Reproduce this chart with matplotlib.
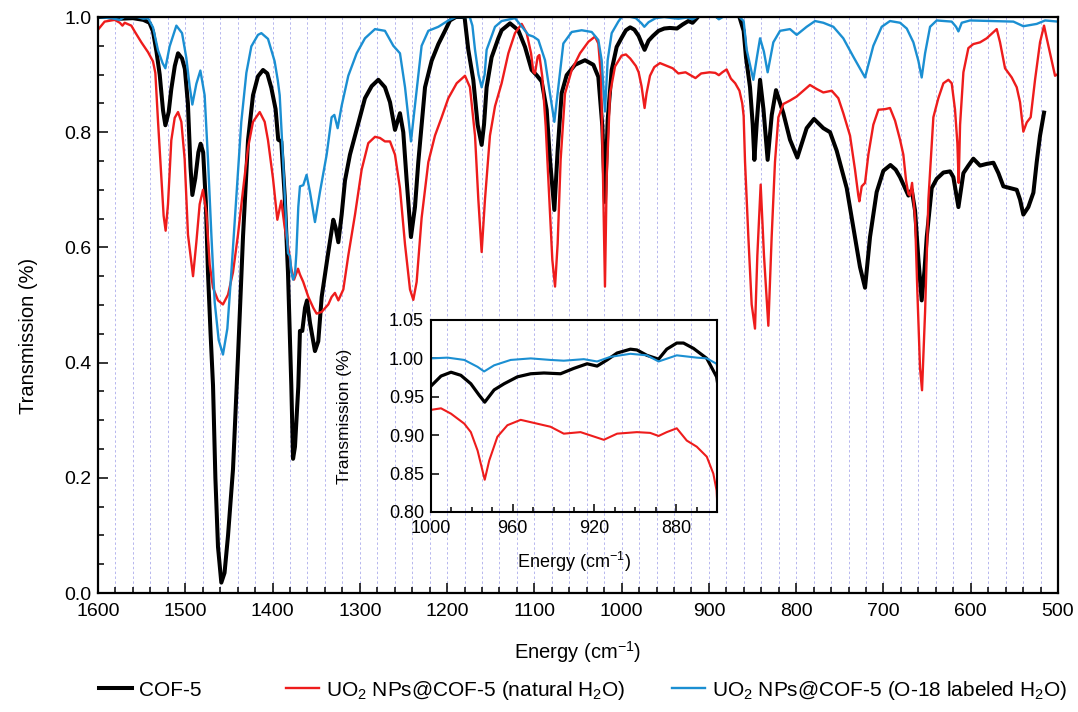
import matplotlib
matplotlib.use("Agg")
import matplotlib.pyplot as plt
from matplotlib.ticker import MultipleLocator, FormatStrFormatter, FixedLocator

plt.rcParams['font.family'] = ['Liberation Sans', 'DejaVu Sans']
plt.rcParams['mathtext.fontset'] = 'custom'
plt.rcParams['mathtext.rm'] = 'Liberation Sans'
plt.rcParams['mathtext.it'] = 'Liberation Sans:italic'
plt.rcParams['mathtext.bf'] = 'Liberation Sans:bold'

# ---------------- data (wavenumber cm^-1, transmission) ----------------
cof5_wn = [1600, 1590, 1575, 1560, 1548, 1541, 1537, 1533, 1529.3, 1525.5, 1522.8, 1519, 1516, 1512,
           1508.3, 1503.7, 1500.5, 1497, 1494, 1491.9, 1488.5, 1485, 1482.4, 1479.5, 1476.5, 1474, 1471,
           1468.2, 1465.5, 1462.5, 1458.7, 1455, 1451, 1445.3, 1439.6, 1433.8, 1428.1, 1422.4, 1416.7,
           1410.9, 1406, 1401.4, 1396.5, 1393.5, 1390, 1386.1, 1382.3, 1378.5, 1376.5, 1374.3, 1370.5,
           1368.6, 1365.9, 1362.8, 1360.5, 1357.1, 1351.4, 1347.6, 1343.7, 1336.1, 1330.4, 1327.7, 1324.6,
           1320.8, 1317, 1311.3, 1305.5, 1294.1, 1286.4, 1278.8, 1271.2, 1265.4, 1259.7, 1254, 1250.2,
           1246.3, 1241.4, 1236.8, 1233, 1225.3, 1217.7, 1210, 1202.4, 1196.7, 1190, 1180, 1175.7, 1170,
           1165, 1160.4, 1157.7, 1154.7, 1149, 1141.3, 1137.5, 1127.9, 1118.4, 1110.7, 1103.1, 1097.4,
           1091.6, 1085.9, 1082.1, 1077.1, 1073.3, 1068.7, 1063, 1053.4, 1042, 1032.4, 1026.7, 1022.1,
           1019.1, 1016, 1011.4, 1005.7,
           1000, 995.1, 990.2, 985.4, 980.5, 976.4, 973.7, 969.1, 964.2, 957.7, 951.2, 944.7, 936.6,
           930.1, 923.6, 918.7, 913.8, 908.9, 902.4, 899.2, 894.3, 888.6, 884.6, 879.7, 876.4, 871.5,
           865, 860.2,
           857.5, 852.9, 849.8, 847.9, 845, 841.4, 837.5, 832.7, 828, 823.1, 814.7, 807.1, 798.7, 788,
           779.6, 768.9, 761.2, 753.6, 742.1, 732.6, 726.9, 721.1, 715.4, 707.8, 700.1, 692, 686, 681,
           675.3, 671.4, 667.6, 663.8, 660, 656.2, 653, 650.4, 644.7, 639, 631.3, 623.7, 619.9, 614.1,
           608.4, 602.7, 597, 589.3, 581.7, 574, 568.3, 562.6, 555, 547.3, 543.5, 539.7, 534, 528.2,
           524.4, 520.6, 516]
cof5_t = [1.0, 1.0, 0.997, 0.998, 0.995, 0.99, 0.975, 0.94, 0.90, 0.838, 0.812, 0.835, 0.875, 0.915,
          0.937, 0.928, 0.91, 0.85, 0.74, 0.691, 0.72, 0.765, 0.78, 0.765, 0.68, 0.557, 0.45,
          0.36, 0.2, 0.08, 0.018, 0.035, 0.10, 0.215, 0.41, 0.62, 0.786, 0.864, 0.897,
          0.908, 0.902, 0.877, 0.84, 0.787, 0.784, 0.69, 0.556, 0.36, 0.233, 0.254, 0.358,
          0.455, 0.455, 0.495, 0.508, 0.469, 0.42, 0.437, 0.514, 0.592, 0.648, 0.634, 0.609,
          0.657, 0.716, 0.761, 0.794, 0.859, 0.88, 0.891, 0.878, 0.852, 0.804, 0.833, 0.80,
          0.716, 0.618, 0.67, 0.748, 0.878, 0.924, 0.953, 0.976, 0.994, 1.0, 1.0, 0.943, 0.891,
          0.813, 0.778, 0.813, 0.878, 0.93, 0.963, 0.977, 0.989, 0.977, 0.948, 0.908, 0.899,
          0.888, 0.839, 0.752, 0.665, 0.769, 0.868, 0.899, 0.917, 0.925, 0.917, 0.896, 0.81,
          0.679, 0.821, 0.908, 0.948,
          0.964, 0.977, 0.982, 0.978, 0.967, 0.952, 0.943, 0.959, 0.967, 0.976, 0.98, 0.981, 0.98,
          0.987, 0.993, 0.99, 0.998, 1.007, 1.012, 1.011, 1.004, 0.999, 1.012, 1.02, 1.02, 1.013,
          1.0, 0.976,
          0.93, 0.878, 0.813, 0.752, 0.82, 0.891, 0.84, 0.752, 0.83, 0.873, 0.833, 0.787, 0.756, 0.807,
          0.823, 0.807, 0.80, 0.768, 0.703, 0.618, 0.566, 0.53, 0.618, 0.696, 0.733, 0.743, 0.735, 0.722,
          0.703, 0.69, 0.70, 0.664, 0.58, 0.508, 0.56, 0.618, 0.703, 0.719, 0.73, 0.732, 0.722, 0.67,
          0.729, 0.742, 0.754, 0.742, 0.745, 0.747, 0.729, 0.706, 0.703, 0.70, 0.683, 0.657, 0.670, 0.695,
          0.748, 0.794, 0.834]

nat_wn = [1600, 1592.4, 1580.9, 1575, 1572, 1569.4, 1561.8, 1558, 1550.3, 1542.7, 1537, 1534.3, 1531.2,
          1527.4, 1524.8, 1522.5, 1519.8, 1516, 1512.1, 1508.3, 1504.5, 1500.7, 1496.9, 1491.1, 1487.3,
          1483.5, 1479.7, 1475.9, 1472, 1468.2, 1462.5, 1456.8, 1451, 1445.3, 1439.6, 1433.8, 1428.1,
          1422.4, 1414.7, 1409, 1405.2, 1399.5, 1394.5, 1390, 1386.1, 1382.3, 1378.5, 1375.4, 1370.8,
          1368.6, 1364.8, 1359, 1353.3, 1349.5, 1343.7, 1336.1, 1332.3, 1328.5, 1324.6, 1318.9, 1313.2,
          1305.5, 1297.9, 1290.3, 1282.6, 1276.9, 1271.2, 1265.4, 1259.7, 1254, 1248.2, 1242.5, 1238.7,
          1234.9, 1229.2, 1221.5, 1213.9, 1206.2, 1198.6, 1189, 1179.5, 1173.8, 1168, 1164.2, 1160.4,
          1156.6, 1150.9, 1145.1, 1137.5, 1129.8, 1122.2, 1114.5, 1108.8, 1103.8, 1101.2, 1099.3, 1096.2,
          1094.3, 1090.9, 1087, 1083.2, 1079.4, 1076.3, 1073.3, 1069.9, 1064.9, 1057.2, 1047.7, 1038.1,
          1030.5, 1026.7, 1023.6, 1021.7, 1019.1, 1017.1, 1013.3, 1007.6,
          1000, 995.1, 990.2, 983.7, 980.5, 977.2, 974.8, 973.7, 971.5, 967.5, 962.6, 956.1, 948, 941.5,
          935, 926.8, 920, 915.4, 908.9, 899.2, 892.7, 888.6, 884.6, 879.7, 874.8, 869.9, 865, 861.8,
          860.2,
          858.6, 854.8, 851, 847.2, 844.5, 840.7, 836.9, 831.9, 828.1, 824.3, 820.4, 814.7, 807.1, 799.4,
          791.8, 784.2, 776.5, 768.9, 759.3, 751.7, 746, 738.3, 732.6, 728.8, 727.6, 724.9, 721.1, 717.3,
          711.6, 705.8, 698.2, 692.5, 686.7, 681, 677.2, 674.1, 671.4, 669.5, 667.2, 663.8, 661.1, 658.1,
          655.8, 652.3, 648.5, 642.8, 637.1, 631.3, 625.6, 621.8, 618, 615.3, 613.8, 612.2, 608.4, 602.7,
          597, 589.3, 581.7, 575.9, 570.2, 566.4, 560.7, 553, 547.3, 543.5, 539.7, 535.8, 531.3, 526.3,
          520.6, 516, 512.9, 507.2, 503.4, 500]
nat_t = [0.978, 0.992, 0.995, 0.99, 0.985, 0.99, 0.985, 0.975, 0.956, 0.939, 0.923, 0.903, 0.818,
         0.72, 0.655, 0.629, 0.675, 0.786, 0.825, 0.835, 0.818, 0.753, 0.622, 0.55, 0.609,
         0.675, 0.70, 0.661, 0.57, 0.53, 0.508, 0.501, 0.518, 0.557, 0.622, 0.70, 0.773,
         0.818, 0.835, 0.818, 0.786, 0.72, 0.648, 0.681, 0.635, 0.603, 0.563, 0.544, 0.563,
         0.553, 0.54, 0.514, 0.495, 0.485, 0.488, 0.501, 0.514, 0.521, 0.508, 0.527, 0.586,
         0.657, 0.735, 0.781, 0.792, 0.79, 0.784, 0.784, 0.761, 0.703, 0.605, 0.527, 0.509,
         0.54, 0.651, 0.748, 0.794, 0.826, 0.859, 0.885, 0.898, 0.878, 0.794, 0.683, 0.592,
         0.683, 0.794, 0.845, 0.885, 0.937, 0.972, 0.988, 0.972, 0.937, 0.905, 0.902, 0.931,
         0.934, 0.896, 0.81, 0.694, 0.578, 0.532, 0.607, 0.752, 0.867, 0.908, 0.937, 0.957,
         0.966, 0.954, 0.896, 0.752, 0.532, 0.723, 0.867, 0.914,
         0.933, 0.935, 0.928, 0.915, 0.904, 0.88, 0.854, 0.842, 0.867, 0.898, 0.913, 0.92, 0.915, 0.911,
         0.902, 0.904, 0.898, 0.894, 0.902, 0.904, 0.903, 0.899, 0.904, 0.909, 0.893, 0.885, 0.872, 0.85,
         0.828,
         0.748, 0.618, 0.501, 0.459, 0.586, 0.709, 0.586, 0.464, 0.618, 0.748, 0.826, 0.849, 0.855, 0.862,
         0.872, 0.882, 0.875, 0.869, 0.872, 0.859, 0.833, 0.794, 0.735, 0.69, 0.68, 0.706, 0.712, 0.761,
         0.813, 0.839, 0.84, 0.842, 0.82, 0.787, 0.761, 0.716, 0.693, 0.69, 0.712, 0.651, 0.521, 0.391,
         0.352, 0.488, 0.683, 0.826, 0.859, 0.885, 0.891, 0.885, 0.839, 0.781, 0.712, 0.813, 0.904, 0.946,
         0.953, 0.956, 0.963, 0.971, 0.979, 0.956, 0.911, 0.895, 0.878, 0.852, 0.801, 0.817, 0.826, 0.891,
         0.956, 0.985, 0.963, 0.924, 0.898, 0.901]

o18_wn = [1600, 1585, 1575, 1570, 1555, 1548, 1542.7, 1537, 1531.2, 1526, 1522.8, 1517.9, 1510.2, 1503.7,
          1498.8, 1495, 1491.9, 1487.3, 1482.7, 1477.8, 1474, 1470.1, 1466.3, 1461.7, 1456.8, 1451.8,
          1447.2, 1441.5, 1435.8, 1430, 1424.3, 1416.7, 1412.8, 1405.2, 1397.6, 1394, 1391.8, 1388,
          1384.2, 1382.3, 1380, 1378.5, 1376.5, 1374.3, 1372.7, 1370.5, 1368.6, 1364.8, 1361, 1357.1,
          1351.4, 1345.7, 1338, 1332.3, 1329.2, 1325.4, 1320.8, 1313.2, 1303.6, 1294.1, 1282.6, 1271.2,
          1261.6, 1254, 1248.2, 1241.4, 1236.8, 1229.2, 1221.5, 1210, 1198.6, 1190, 1174, 1171, 1168,
          1164, 1160.4, 1157, 1154.7, 1145.1, 1137.5, 1122.2, 1112.6, 1106.9, 1101.2, 1095.4, 1087.8,
          1082.1, 1077.1, 1072.5, 1066.8, 1057.2, 1045.8, 1034.3, 1026.7, 1022.9, 1019.1, 1016, 1011.4,
          1003.8,
          1000, 991.9, 983.7, 977.2, 974, 969.1, 961, 951.2, 941.5, 935, 925.2, 918.7, 912.2, 902.4,
          894.3, 888.6, 879.7, 869.9, 865, 860.2,
          856.7, 849.1, 845, 841.4, 837, 832.7, 826.2, 818.5, 807.1, 799.4, 788, 778.4, 768.9, 757.4,
          746, 734.5, 721.1, 711.6, 702, 692.5, 681, 673.3, 665.7, 660, 656.2, 652.3, 646.6, 639, 621.8,
          616.8, 614.1, 610.3, 600.8, 551.1, 539.7, 524.4, 514.8, 500]
o18_t = [1.0, 0.998, 0.995, 1.0, 1.0, 0.997, 0.998, 0.982, 0.942, 0.92, 0.911, 0.949, 0.985, 0.972,
         0.929, 0.88, 0.848, 0.884, 0.907, 0.864, 0.753, 0.622, 0.505, 0.439, 0.414, 0.459,
         0.557, 0.688, 0.818, 0.903, 0.949, 0.969, 0.972, 0.962, 0.923, 0.89, 0.864, 0.753,
         0.635, 0.59, 0.585, 0.557, 0.544, 0.553, 0.59, 0.67, 0.706, 0.708, 0.726, 0.696,
         0.644, 0.696, 0.761, 0.826, 0.83, 0.807, 0.846, 0.898, 0.937, 0.963, 0.979, 0.976,
         0.95, 0.937, 0.878, 0.784, 0.846, 0.95, 0.976, 0.983, 0.994, 1.0, 1.0, 0.985, 0.943,
         0.9, 0.878, 0.9, 0.943, 0.983, 0.993, 0.998, 0.98, 0.969, 0.966, 0.96, 0.925,
         0.867, 0.818, 0.879, 0.954, 0.974, 0.977, 0.974, 0.96, 0.925, 0.836, 0.925, 0.972,
         0.992,
         1.0, 1.001, 0.998, 0.989, 0.983, 0.991, 0.998, 1.0, 0.998, 0.997, 0.999, 0.996, 1.002, 1.006,
         1.004, 0.996, 1.004, 1.001, 1.0, 0.993,
         0.943, 0.891, 0.93, 0.963, 0.94, 0.904, 0.956, 0.976, 0.979, 0.969, 0.983, 0.993, 0.99, 0.983,
         0.963, 0.931, 0.895, 0.95, 0.983, 0.993, 0.99, 0.98, 0.956, 0.924, 0.895, 0.937, 0.983, 0.994,
         0.992, 0.983, 0.975, 0.99, 0.994, 0.992, 0.984, 0.988, 0.994, 0.992]

labels = ['COF-5', 'UO$_2$ NPs@COF-5 (natural H$_2$O)', 'UO$_2$ NPs@COF-5 (O-18 labeled H$_2$O)']
colors = ['#000000', '#ee1c1c', '#1b8fd2']
main_xticks = [1600, 1500, 1400, 1300, 1200, 1100, 1000, 900, 800, 700, 600, 500]
main_yticks = [0.0, 0.2, 0.4, 0.6, 0.8, 1.0]
inset_xticks = [1000, 960, 920, 880]
inset_yticks = [0.80, 0.85, 0.90, 0.95, 1.00, 1.05]

# ---------------- figure ----------------
W, H = 1078, 712
fig = plt.figure(figsize=(W / 100, H / 100), dpi=100)

def frac(l, t, r, b):
    return [l / W, 1 - b / H, (r - l) / W, (b - t) / H]

ax = fig.add_axes(frac(98, 17, 1058, 593))
series = [(cof5_wn, cof5_t), (nat_wn, nat_t), (o18_wn, o18_t)]
widths = [2.9, 1.7, 1.7]
handles = []
for (x, y), c, lw, lab in zip(series, colors, widths, labels):
    h, = ax.plot(x, y, color=c, lw=lw, label=lab, solid_joinstyle='round')
    handles.append(h)

ax.set_xlim(1600, 500)
ax.set_ylim(0, 1.0)
ax.xaxis.set_major_locator(FixedLocator(main_xticks))
ax.xaxis.set_minor_locator(MultipleLocator(20))
ax.yaxis.set_major_locator(FixedLocator(main_yticks))
ax.yaxis.set_minor_locator(MultipleLocator(0.05))
ax.yaxis.set_major_formatter(FormatStrFormatter('%.1f'))
ax.tick_params(which='both', direction='in', top=False, right=False, labelsize=14, width=1.1)
ax.tick_params(which='major', length=7)
ax.tick_params(which='minor', length=4)
ax.tick_params(axis='x', which='major', pad=7)
ax.tick_params(axis='y', which='major', pad=4.5)
ax.xaxis.grid(True, which='both', color='#b6b6ee', lw=0.7, ls=(0, (2.5, 2.5)))
ax.set_axisbelow(True)
for s in ax.spines.values():
    s.set_linewidth(1.6)
ax.set_xlabel('Energy (cm$^{-1}$)', fontsize=14.5)
ax.xaxis.set_label_coords(0.5, -0.08)
ax.set_ylabel('Transmission (%)', fontsize=14.5)
ax.yaxis.set_label_coords(-0.063, 0.446)

# ---------------- inset ----------------
ins = fig.add_axes(frac(431, 320, 717, 512))
ins.set_facecolor('none')
for (x, y), c, lw in zip(series, colors, [2.3, 1.5, 1.5]):
    ins.plot(x, y, color=c, lw=lw, solid_joinstyle='round')
ins.set_xlim(1000, 860)
ins.set_ylim(0.80, 1.05)
ins.xaxis.set_major_locator(FixedLocator(inset_xticks))
ins.xaxis.set_minor_locator(MultipleLocator(10))
ins.yaxis.set_major_locator(FixedLocator(inset_yticks))
ins.yaxis.set_major_formatter(FormatStrFormatter('%.2f'))
ins.tick_params(which='both', direction='in', top=False, right=False, labelsize=13, width=1.1)
ins.tick_params(which='major', length=6)
ins.tick_params(which='minor', length=3.5)
ins.tick_params(axis='x', which='major', pad=6)
ins.tick_params(axis='y', which='major', pad=5)
for s in ins.spines.values():
    s.set_linewidth(1.5)
ins.set_xlabel('Energy (cm$^{-1}$)', fontsize=13)
ins.xaxis.set_label_coords(0.5, -0.2)
ins.set_ylabel('Transmission (%)', fontsize=12.5)
ins.yaxis.set_label_coords(-0.275, 0.5)

# ---------------- legend ----------------
leg_x = [99, 286, 672]
for h, x0 in zip(handles, leg_x):
    fig.legend(handles=[h], loc='center left', bbox_to_anchor=(x0 / W, 22 / H),
               frameon=False, fontsize=15, handlelength=1.6, handletextpad=0.3,
               borderpad=0, borderaxespad=0)

fig.savefig('out.png', dpi=100)
